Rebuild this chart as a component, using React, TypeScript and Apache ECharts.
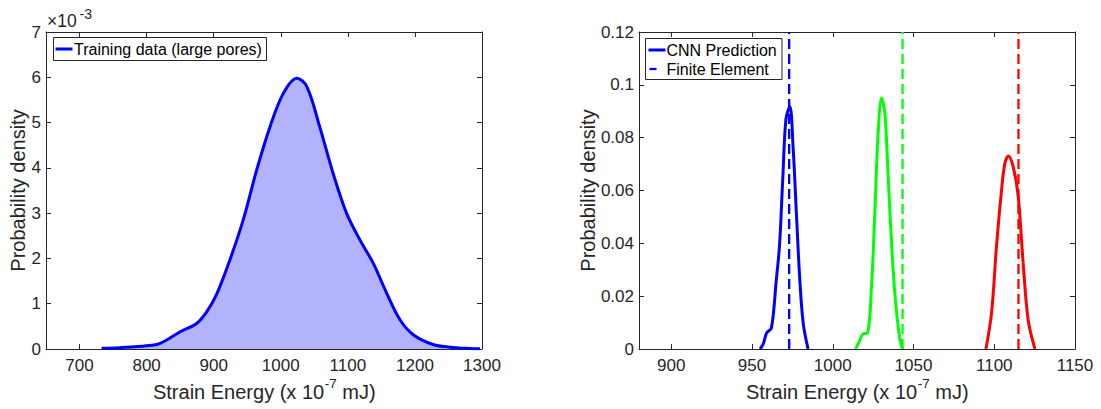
import React, { useEffect, useRef } from "react";
import * as echarts from "echarts";

// ---------- data ----------
const leftX = [733, 760, 800, 820, 850, 875, 890, 905, 924, 944, 964, 984, 1004, 1024, 1039, 1058, 1078, 1098, 1118, 1138, 1158, 1178, 1198, 1227, 1252, 1282, 1297];
// probability density in units of 1e-3
const leftY = [0.015, 0.03, 0.07, 0.125, 0.38, 0.57, 0.83, 1.23, 1.96, 2.85, 3.95, 4.91, 5.65, 5.98, 5.79, 4.91, 3.88, 3.0, 2.41, 1.89, 1.23, 0.64, 0.31, 0.1, 0.04, 0.01, 0.005];

const blueX = [955, 957, 959, 962, 965, 967, 969, 971, 973.4, 975.4, 977.5, 979.6, 981.7, 984.7];
const blueY = [0, 0.002, 0.006, 0.008, 0.026, 0.039, 0.064, 0.087, 0.0918, 0.0767, 0.051, 0.026, 0.0097, 0];
const greenX = [1014.2, 1016.5, 1018.8, 1021.5, 1024, 1026, 1028.2, 1030.3, 1032.3, 1034.4, 1036.5, 1038.6, 1041.3, 1043.2];
const greenY = [0, 0.003, 0.0057, 0.006, 0.0236, 0.051, 0.083, 0.095, 0.089, 0.064, 0.039, 0.0198, 0.0047, 0];
const redX = [1094.8, 1098.3, 1101.4, 1104.5, 1106.5, 1108.8, 1111.7, 1114.8, 1117.9, 1121, 1125.2];
const redY = [0, 0.0135, 0.039, 0.06, 0.07, 0.0731, 0.069, 0.058, 0.0325, 0.011, 0];
const feValues = [973, 1043.2, 1115];
const seriesColors = ["#0000ff", "#00ff00", "#ff0000"];

const leftXTicks = [700, 800, 900, 1000, 1100, 1200, 1300];
const leftYTicks = [0, 1, 2, 3, 4, 5, 6, 7];
const rightXTicks = [900, 950, 1000, 1050, 1100, 1150];
const rightYTicks = [0, 0.02, 0.04, 0.06, 0.08, 0.1, 0.12];

const FONT = '"Liberation Sans", Arial, Helvetica, sans-serif';
const TXT = "#262626";

const zip = (xs: number[], ys: number[]) => xs.map((x, i) => [x, ys[i]]);

function measure(text: string, size: number) {
  const c = document.createElement("canvas").getContext("2d");
  if (!c) return text.length * size * 0.5;
  c.font = `${size}px "Liberation Sans"`;
  return c.measureText(text).width;
}

function xLabel(cx: number) {
  const big = 20, small = 13.5;
  const a = "Strain Energy (x 10", b = "-7", c = " mJ)";
  const wa = measure(a, big), wb = measure(b, small), wc = measure(c, big);
  const x0 = cx - (wa + wb + wc) / 2;
  const yMain = 392;
  return [
    { type: "text", x: x0, y: yMain, style: { text: a, fill: TXT, font: `${big}px ${FONT}`, align: "left", verticalAlign: "middle" } },
    { type: "text", x: x0 + wa + 0.5, y: yMain - 9, style: { text: b, fill: TXT, font: `${small}px ${FONT}`, align: "left", verticalAlign: "middle" } },
    { type: "text", x: x0 + wa + wb + 0.5, y: yMain, style: { text: c, fill: TXT, font: `${big}px ${FONT}`, align: "left", verticalAlign: "middle" } },
  ];
}

function yLabel(x: number) {
  return {
    type: "text",
    x,
    y: 190.5,
    rotation: Math.PI / 2,
    style: { text: "Probability density", fill: TXT, font: `20px ${FONT}`, align: "center", verticalAlign: "middle" },
  };
}

const axisLineStyle = { color: TXT, width: 1 };

function xAxisPair(grid: number, min: number, max: number, ticks: number[]) {
  const common = {
    type: "value",
    gridIndex: grid,
    min,
    max,
    splitLine: { show: false },
    axisLine: { show: true, onZero: false, lineStyle: axisLineStyle },
  };
  return [
    {
      ...common,
      position: "bottom",
      axisTick: { show: true, inside: true, length: 5, customValues: ticks, lineStyle: axisLineStyle },
      axisLabel: { show: true, customValues: ticks, color: TXT, fontSize: 17, fontFamily: FONT, margin: 8, formatter: (v: number) => String(v) },
    },
    {
      ...common,
      position: "top",
      axisTick: { show: true, inside: true, length: 5, customValues: ticks, lineStyle: axisLineStyle },
      axisLabel: { show: false },
    },
  ];
}

function yAxisPair(grid: number, min: number, max: number, ticks: number[]) {
  const common = {
    type: "value",
    gridIndex: grid,
    min,
    max,
    splitLine: { show: false },
    axisLine: { show: true, onZero: false, lineStyle: axisLineStyle },
  };
  return [
    {
      ...common,
      position: "left",
      axisTick: { show: true, inside: true, length: 5, customValues: ticks, lineStyle: axisLineStyle },
      axisLabel: {
        show: true,
        customValues: ticks,
        color: TXT,
        fontSize: 17,
        fontFamily: FONT,
        margin: 5,
        formatter: (v: number) => String(parseFloat(v.toFixed(3))),
      },
    },
    {
      ...common,
      position: "right",
      axisTick: { show: true, inside: true, length: 5, customValues: ticks, lineStyle: axisLineStyle },
      axisLabel: { show: false },
    },
  ];
}

export default function App() {
  const ref = useRef<HTMLDivElement>(null);

  useEffect(() => {
    if (!ref.current) return;
    const chart = echarts.init(ref.current, null, { renderer: "svg" });

    const rightCurves = [zip(blueX, blueY), zip(greenX, greenY), zip(redX, redY)];

    const series: any[] = [
      {
        type: "line",
        xAxisIndex: 0,
        yAxisIndex: 0,
        data: zip(leftX, leftY),
        smooth: 0.35,
        showSymbol: false,
        symbol: "none",
        lineStyle: { color: "#0000ff", width: 3 },
        areaStyle: { color: "#b3b3fd", opacity: 1 },
        z: 2,
      },
    ];
    rightCurves.forEach((d, i) => {
      series.push({
        type: "line",
        xAxisIndex: 2,
        yAxisIndex: 2,
        data: d,
        smooth: 0.35,
        symbol: "none",
        lineStyle: { color: seriesColors[i], width: 3 },
        z: 2,
      });
      series.push({
        type: "line",
        xAxisIndex: 2,
        yAxisIndex: 2,
        data: [
          [feValues[i], 0],
          [feValues[i], 0.12],
        ],
        symbol: "none",
        lineStyle: { color: seriesColors[i], width: 2.3, type: [10, 5] },
        z: 3,
      });
    });

    const graphic: any[] = [
      // x10^-3 multiplier
      { type: "text", x: 47, y: 21, style: { text: "×10", fill: TXT, font: `17.5px ${FONT}`, align: "left", verticalAlign: "middle" } },
      { type: "text", x: 79.5, y: 14, style: { text: "-3", fill: TXT, font: `14px ${FONT}`, align: "left", verticalAlign: "middle" } },
      ...xLabel(264),
      ...xLabel(857),
      yLabel(18),
      yLabel(588),
      // left legend
      { type: "rect", shape: { x: 53.5, y: 37.5, width: 213, height: 23 }, style: { fill: "#ffffff", stroke: TXT, lineWidth: 1 }, z: 10 },
      { type: "line", shape: { x1: 55.5, y1: 49, x2: 72.5, y2: 49 }, style: { stroke: "#0000ff", lineWidth: 3 }, z: 11 },
      { type: "text", x: 74, y: 49.5, style: { text: "Training data (large pores)", fill: "#000000", font: `16px ${FONT}`, align: "left", verticalAlign: "middle" }, z: 11 },
      // right legend
      { type: "rect", shape: { x: 645.5, y: 38.5, width: 136.5, height: 41 }, style: { fill: "#ffffff", stroke: TXT, lineWidth: 1 }, z: 10 },
      { type: "line", shape: { x1: 648.5, y1: 50, x2: 665.5, y2: 50 }, style: { stroke: "#0000ff", lineWidth: 3 }, z: 11 },
      { type: "text", x: 666.5, y: 50, style: { text: "CNN Prediction", fill: "#000000", font: `16px ${FONT}`, align: "left", verticalAlign: "middle" }, z: 11 },
      { type: "line", shape: { x1: 649.5, y1: 69, x2: 656.5, y2: 69 }, style: { stroke: "#0000ff", lineWidth: 2.3 }, z: 11 },
      { type: "text", x: 666.5, y: 69, style: { text: "Finite Element", fill: "#000000", font: `16px ${FONT}`, align: "left", verticalAlign: "middle" }, z: 11 },
    ];

    chart.setOption({
      animation: false,
      backgroundColor: "#ffffff",
      textStyle: { fontFamily: FONT },
      grid: [
        { left: 46, top: 32, width: 436, height: 317, containLabel: false },
        { left: 639, top: 32, width: 436, height: 317, containLabel: false },
      ],
      xAxis: [...xAxisPair(0, 650, 1300, leftXTicks), ...xAxisPair(1, 880, 1150, rightXTicks)],
      yAxis: [...yAxisPair(0, 0, 7, leftYTicks), ...yAxisPair(1, 0, 0.12, rightYTicks)],
      series,
      graphic,
    });

    return () => chart.dispose();
  }, []);

  return (
    <div
      ref={ref}
      style={{ position: "fixed", left: 0, top: 0, width: 1101, height: 409, background: "#ffffff" }}
    />
  );
}
